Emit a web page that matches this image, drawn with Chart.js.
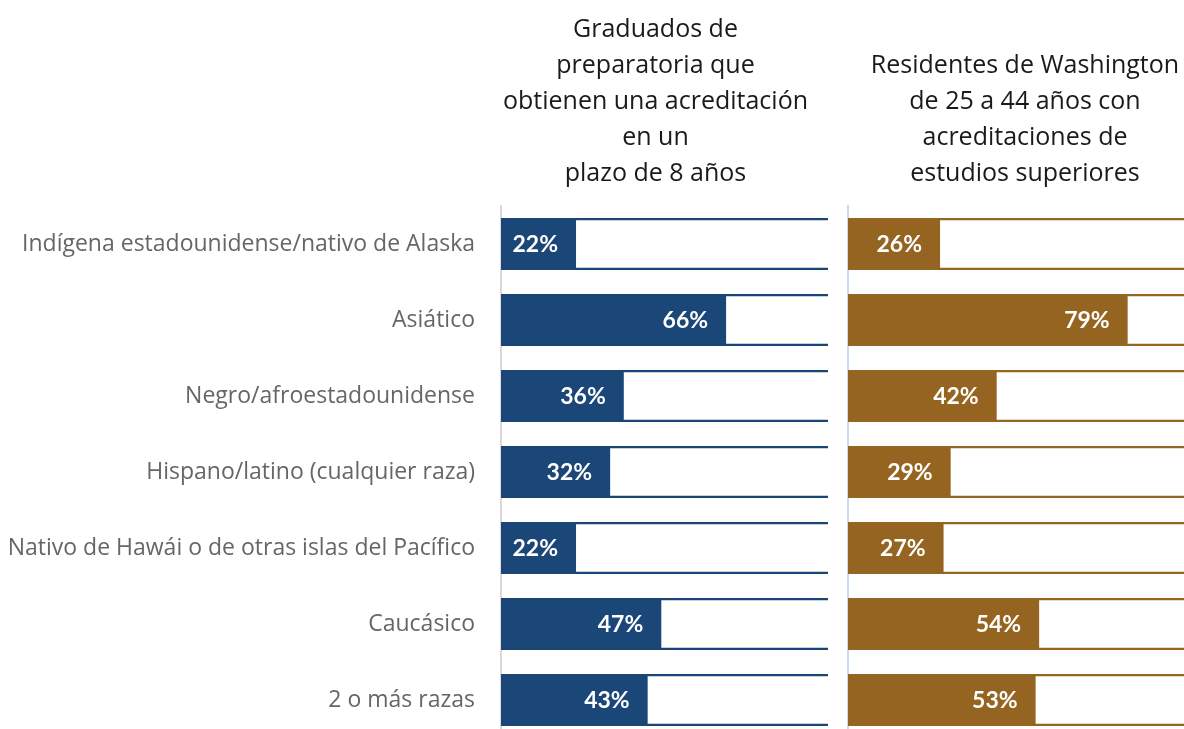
<!DOCTYPE html>
<html>
<head>
<meta charset="utf-8">
<script src="https://cdn.jsdelivr.net/npm/chart.js@4"></script>
<style>
  html, body { margin: 0; padding: 0; background: #fff; overflow: hidden; width: 1184px; height: 729px; }
  #left { position: absolute; left: 0; top: 0; }
  #right { position: absolute; left: 828px; top: 0; }
</style>
</head>
<body>
<canvas id="left" width="828" height="738"></canvas>
<canvas id="right" width="374" height="738"></canvas>
<script>
const categories = [
  'Indígena estadounidense/nativo de Alaska',
  'Asiático',
  'Negro/afroestadounidense',
  'Hispano/latino (cualquier raza)',
  'Nativo de Hawái o de otras islas del Pacífico',
  'Caucásico',
  '2 o más razas'
];
const gradValues = [22, 66, 36, 32, 22, 47, 43];
const residentValues = [26, 79, 42, 29, 27, 54, 53];
const trackValues = [100, 100, 100, 100, 100, 100, 100];
const gradTitle = ['Graduados de', 'preparatoria que', 'obtienen una acreditación', 'en un', 'plazo de 8 años'];
const residentTitle = ['Residentes de Washington', 'de 25 a 44 años con', 'acreditaciones de', 'estudios superiores'];

// white % labels at the inner end of each filled bar
const barLabels = {
  id: 'barLabels',
  afterDatasetsDraw(chart) {
    const ctx = chart.ctx;
    const meta = chart.getDatasetMeta(0);
    const vals = chart.data.datasets[0].data;
    ctx.save();
    ctx.font = 'bold 23px Lato';
    ctx.fillStyle = '#ffffff';
    ctx.textAlign = 'right';
    ctx.textBaseline = 'middle';
    meta.data.forEach((bar, i) => {
      ctx.fillText(vals[i] + '%', bar.x - 18, bar.y + 1);
    });
    ctx.restore();
  }
};

function makeChart(id, values, color, title, o) {
  return new Chart(document.getElementById(id), {
    type: 'bar',
    data: {
      labels: categories,
      datasets: [
        {
          data: values,
          backgroundColor: color,
          borderWidth: 0,
          barPercentage: 0.684,
          categoryPercentage: 1,
          grouped: false
        },
        {
          data: trackValues,
          backgroundColor: '#ffffff',
          borderColor: color,
          borderWidth: { top: 2.5, bottom: 2.5, left: 0, right: 0 },
          borderSkipped: false,
          barPercentage: 0.684,
          categoryPercentage: 1,
          grouped: false,
          clip: false
        }
      ]
    },
    options: {
      indexAxis: 'y',
      responsive: false,
      animation: false,
      layout: { padding: { left: 0, right: o.padRight, top: 0, bottom: 0 } },
      plugins: {
        legend: { display: false },
        tooltip: { enabled: false },
        title: {
          display: true,
          text: title,
          fullSize: false,
          color: '#1a1a1a',
          font: { family: 'Open Sans', size: 25, weight: 'normal', lineHeight: 1.44 },
          padding: { top: o.titleTop, bottom: 14 }
        }
      },
      scales: {
        x: { display: false, min: 0, max: o.xMax },
        y: {
          afterFit(scale) {
            scale.width = o.axisWidth;
            scale.paddingTop = 0;
            scale.paddingBottom = 0;
          },
          grid: { display: false, drawTicks: false },
          border: { display: true, color: o.axisColor, width: 2 },
          ticks: {
            display: o.showTicks,
            padding: 26,
            color: '#666666',
            font: { family: 'Open Sans', size: 23, weight: 'normal' }
          }
        }
      }
    },
    plugins: [barLabels]
  });
}

makeChart('left', gradValues, '#1a4678', gradTitle, {
  padRight: 18, xMax: 90.6, axisWidth: 501, axisColor: '#d9d9d9', showTicks: true, titleTop: 12
});
makeChart('right', residentValues, '#956421', residentTitle, {
  padRight: 0, xMax: 100, axisWidth: 20, axisColor: '#c6d9f0', showTicks: false, titleTop: 48
});
</script>
</body>
</html>
